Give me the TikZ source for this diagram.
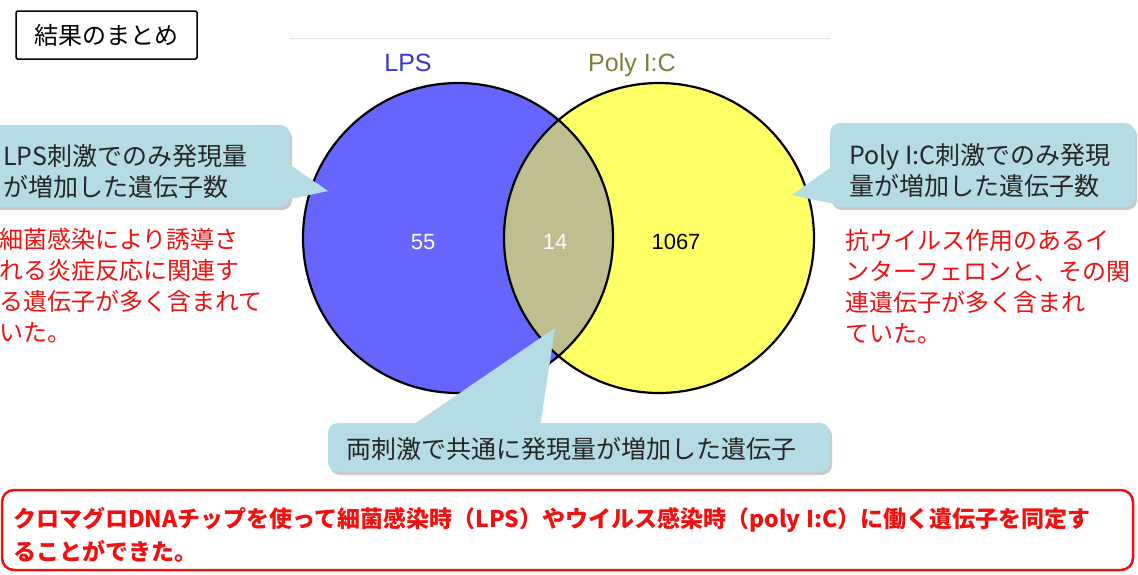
\documentclass[tikz,border=0pt]{standalone}
\usepackage{fontspec}
\setmainfont{Liberation Sans}
\newfontfamily\jp{Noto Sans CJK JP}
\usetikzlibrary{shadows}
\definecolor{lpsblue}{HTML}{6666FF}
\definecolor{pyellow}{HTML}{FFFF66}
\definecolor{lenscol}{HTML}{BEBE8E}
\definecolor{callbg}{HTML}{B3DCE5}
\definecolor{lpslabel}{HTML}{3535D0}
\definecolor{polylabel}{HTML}{7F7F3A}
\definecolor{redtxt}{HTML}{F01010}
\tikzset{
  callout/.style={fill=callbg, rounded corners=10pt,
    drop shadow={shadow xshift=2pt, shadow yshift=-3pt, opacity=0.35, fill=black!60}},
  pointer/.style={fill=callbg},
  ctext/.style={font=\jp\fontsize{25}{31}\selectfont, text=black!85, align=left, inner sep=0pt},
  rtext/.style={font=\jp\fontsize{24}{31}\selectfont, text=redtxt, align=left, inner sep=0pt},
  vennedge/.style={draw=black, line width=2.2pt},
  numtext/.style={font=\fontsize{22}{26}\selectfont, inner sep=0pt},
  setlabel/.style={font=\fontsize{25}{30}\selectfont, inner sep=0pt, anchor=base}
}
\begin{document}
\begin{tikzpicture}[x=1pt,y=-1pt]
\useasboundingbox (0,0) rectangle (1138,574);
\clip (0,0) rectangle (1138,574);
\fill[white] (0,0) rectangle (1138,574);

% faint top line
\draw[black!10, line width=1pt] (290,38) -- (830,38);

% title
\node[draw=black, line width=1.5pt, rounded corners=1.5pt, minimum width=181pt, minimum height=48pt,
      font=\jp\fontsize{24}{28}\selectfont, inner sep=0pt] (title) at (106.5,35) {結果のまとめ};

% Venn
\coordinate (cl) at (458,238);
\coordinate (cr) at (659,238);
\fill[lpsblue] (cl) circle[radius=155pt];
\fill[pyellow] (cr) circle[radius=155pt];
\begin{scope}
  \clip (cl) circle[radius=155pt];
  \fill[lenscol] (cr) circle[radius=155pt];
\end{scope}
\draw[vennedge] (cl) circle[radius=155pt];
\draw[vennedge] (cr) circle[radius=155pt];

\node[setlabel, text=lpslabel] (lpslab) at (408,71) {LPS};
\node[setlabel, text=polylabel] (polylab) at (632,71) {Poly I:C};

\node[numtext, text=white] (n55) at (423,242) {55};
\node[numtext, text=white] (n14) at (555,242) {14};
\node[numtext, text=black] (n1067) at (676,242) {1067};

% left callout
\path[callout] (-20,125) rectangle (290,207);
\coordinate (ltip) at (328,191);
\fill[pointer] (286,162) -- (ltip) -- (286,200) -- cycle;
\node[ctext, anchor=west] (ltext) at (3,172) {LPS刺激でのみ発現量\\が増加した遺伝子数};
\node[rtext, anchor=west] (lred) at (-1,286) {細菌感染により誘導さ\\れる炎症反応に関連す\\る遺伝子が多く含まれて\\いた。};

% right callout
\path[callout] (830,123) rectangle (1135,207);
\coordinate (rtip) at (792,195);
\fill[pointer] (834,165) -- (rtip) -- (834,204) -- cycle;
\node[ctext, anchor=west] (rtext) at (849,171) {Poly I:C刺激でのみ発現\\量が増加した遺伝子数};
\node[rtext, anchor=west] (rred) at (845,287) {抗ウイルス作用のあるイ\\ンターフェロンと、その関\\連遺伝子が多く含まれ\\ていた。};

% bottom callout
\path[callout] (328,423) rectangle (830,472);
\coordinate (btip) at (555,328);
\fill[pointer] (410,427) -- (btip) -- (540,427) -- cycle;
\node[ctext, anchor=center] (btext) at (571,449) {両刺激で共通に発現量が増加した遺伝子};

% conclusion box
\node[draw=redtxt, line width=2.5pt, rounded corners=12pt, minimum width=1131pt, minimum height=80pt,
      inner sep=0pt] (concl) at (567.5,530) {};
\node[font=\jp\bfseries\fontsize{23}{33}\selectfont, text=redtxt, align=left, inner sep=0pt, anchor=west]
  (ctxt) at (13,535) {クロマグロDNAチップを使って細菌感染時（LPS）やウイルス感染時（poly I:C）に働く遺伝子を同定す\\ることができた。};
\end{tikzpicture}
\end{document}
